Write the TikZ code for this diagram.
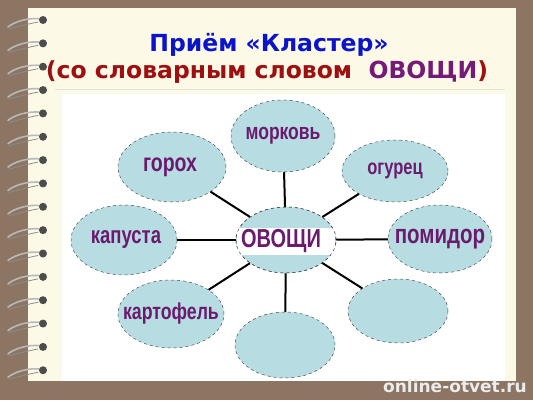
\documentclass[tikz,border=0pt]{standalone}
\usepackage{fontspec}
\usepackage{graphicx}
\setmainfont{DejaVu Sans}
\newfontfamily\labfont{Liberation Sans}
\usetikzlibrary{shapes.geometric}
\definecolor{bgbrown}{HTML}{8C7563}
\definecolor{paper}{HTML}{FCF9E6}
\definecolor{cellblue}{HTML}{B7DDE2}
\definecolor{labpurple}{HTML}{6A1B6E}
\definecolor{titleblue}{HTML}{0A14C8}
\definecolor{titlered}{HTML}{9E0F12}
\definecolor{wordpurple}{HTML}{751A78}
\newcommand{\stretchlab}[2]{\scalebox{1}[1.3]{\labfont\bfseries\fontsize{#1}{#1}\selectfont #2}}
\tikzset{
  cell/.style={ellipse, draw=black!70, dashed, line width=0.5pt, fill=cellblue, inner sep=0pt},
  lab/.style={text=labpurple, inner sep=0pt},
  link/.style={draw=black, line width=2pt},
  ringwire/.style={draw=gray!55, line width=1.6pt, line cap=round},
  ringball/.style={circle, fill=black!70, inner sep=0pt, minimum size=8pt},
  titlefont/.style={font=\bfseries\fontsize{23.5}{27}\selectfont}
}
\begin{document}
\begin{tikzpicture}[x=1pt,y=-1pt]
\useasboundingbox (0,0) rectangle (533,400);
\fill[bgbrown] (0,0) rectangle (533,400);
% paper
\fill[paper] (28,8) rectangle (516,381);
\fill[white] (62,94) rectangle (505,381);
\draw[black!12, line width=1pt] (55,89) -- (505,89);
% spiral rings
\foreach \i in {0,...,15} {
  \pgfmathsetmacro{\yy}{21+23.35*\i}
  \draw[ringwire] (8,\yy+6) .. controls (14,\yy+1) and (28,\yy-4) .. (42,\yy-2);
  \draw[black!45, line width=0.8pt, line cap=round] (9,\yy+8) .. controls (16,\yy+6) and (28,\yy+3) .. (38,\yy+1);
  \node[ringball] (r\i) at (43,\yy-1) {};
}
% title
\node[titlefont, text=titleblue] (t1) at (269,45) {Приём «Кластер»};
\node[titlefont, text=titlered] (t2) at (267,72)
  {(со словарным словом\ \ \textcolor{wordpurple}{ОВОЩИ})};
% outer cells
\node[cell, minimum width=104pt, minimum height=72pt] (mork) at (283,136) {};
\node[cell, minimum width=106pt, minimum height=62pt] (ogur) at (395,171) {};
\node[cell, minimum width=104pt, minimum height=68pt] (pomi) at (440,239) {};
\node[cell, minimum width=100pt, minimum height=64pt] (e1) at (398,311) {};
\node[cell, minimum width=100pt, minimum height=66pt] (e2) at (285,345) {};
\node[cell, minimum width=106pt, minimum height=68pt] (kart) at (171,314) {};
\node[cell, minimum width=106pt, minimum height=70pt] (kapu) at (124,240) {};
\node[cell, minimum width=108pt, minimum height=70pt] (goro) at (172,167) {};
% centre
\node[cell, minimum width=100pt, minimum height=66pt] (veg) at (286,240) {};
\fill[white] (237,228) rectangle (335,255);
\draw[black!70, dashed, line width=0.5pt] (veg.center) ellipse (50pt and 33pt);
% labels
\node[lab] (lmork) at (mork.center) {\stretchlab{17.5}{морковь}};
\node[lab] (logur) at (ogur.center) {\stretchlab{16.5}{огурец}};
\node[lab] (lpomi) at (pomi.center) {\stretchlab{20.5}{помидор}};
\node[lab] (lkart) at (kart.center) {\stretchlab{17.7}{картофель}};
\node[lab] (lkapu) at (126,240) {\stretchlab{18.5}{капуста}};
\node[lab] (lgoro) at (170,167) {\stretchlab{19.5}{горох}};
\node[lab] (lveg) at (281,241) {\stretchlab{20}{ОВОЩИ}};
% links
\foreach \t in {mork,ogur,pomi,e1,e2,kart,kapu,goro}
  \draw[link] (veg) -- (\t);
% watermark
\node[font=\bfseries\fontsize{17}{20}\selectfont, text=white!85!gray] (wm) at (455,386) {online-otvet.ru};
\end{tikzpicture}
\end{document}
